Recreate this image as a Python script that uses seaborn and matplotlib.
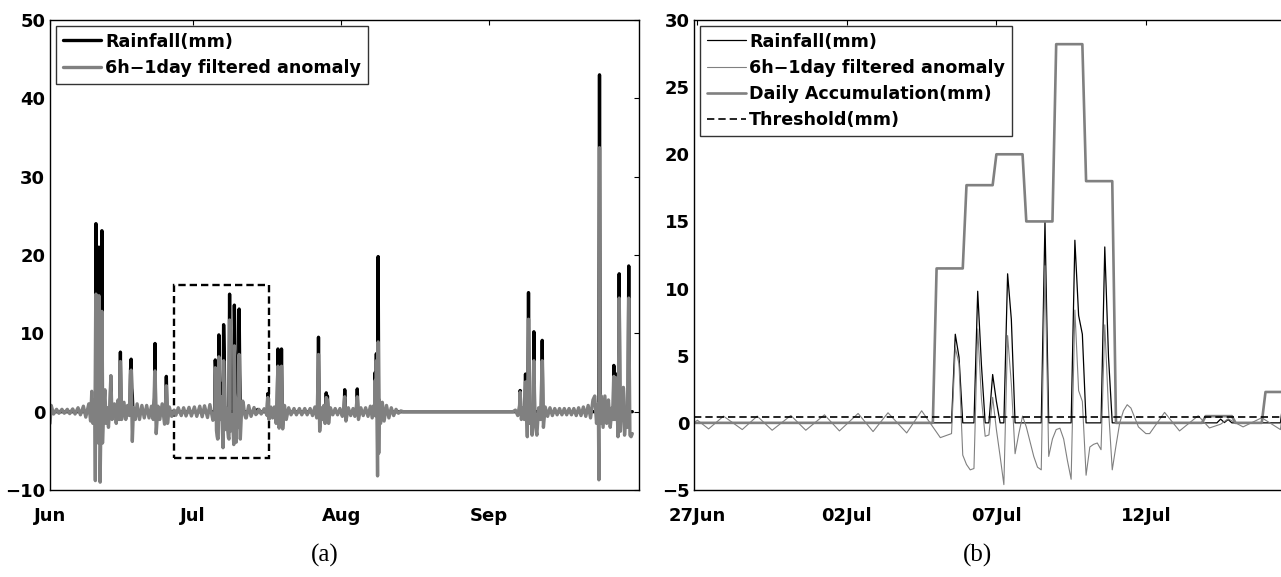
import numpy as np
import pandas as pd
import matplotlib
matplotlib.use("Agg")
import matplotlib.pyplot as plt
import matplotlib.dates as mdates
from matplotlib.patches import Rectangle
import seaborn as sns

# season starts 1 Jun; times below are days after 1 Jun 00:00 (3-hourly steps)
season_start = pd.Timestamp("2010-06-01")

# non-zero 3-hourly rainfall (mm)
rain_day = [9.625, 10.25, 10.875, 12.75, 14.75, 16.875, 17.0, 17.125, 17.25, 21.875, 22.0, 24.375,
            34.625, 34.75, 35.375, 35.5, 35.875, 36.0, 36.375, 36.5, 37.625, 38.625, 38.75, 38.875,
            39.625, 39.75, 43.5, 43.625, 43.75, 45.625,
            47.75, 48.5, 56.25, 57.875, 58.125, 61.75, 64.375, 68.125, 68.375, 68.75,
            98.5, 99.625, 100.25, 101.375, 103.125, 115.125, 118.125, 118.625, 119.25, 120.125, 121.25]
rain_mm = [24.0, 21.0, 23.1, 4.5, 7.6, 5.4, 6.7, 3.0, 2.0, 1.8, 8.7, 4.5,
           6.6, 4.9, 9.8, 4.3, 3.6, 1.6, 11.1, 7.7, 15.0, 13.6, 8.0, 6.6,
           13.1, 4.9, 0.28, 0.02, 0.25, 2.3,
           8.0, 8.0, 9.5, 2.4, 2.0, 2.8, 2.9, 5.0, 7.4, 19.8,
           2.7, 4.8, 15.2, 10.2, 9.1, 43.0, 5.9, 4.8, 17.6, 3.0, 18.6]

# 6h-1day filtered anomaly (mm), turning points
anom_day = [0.0, 0.25, 0.75, 1.375, 1.875, 2.5, 3.0, 3.625, 4.125, 4.75, 5.25, 5.875, 6.375, 7.0, 7.5,
            8.125, 8.5, 8.75, 9.0, 9.375, 9.5, 9.625, 9.75, 9.875, 10.0, 10.125, 10.25, 10.375, 10.5,
            10.625, 10.75, 10.875, 11.0, 11.25, 11.5, 11.75, 12.0, 12.25, 12.5, 12.75, 13.0, 13.5,
            13.875, 14.25, 14.5, 14.75, 15.0, 15.5, 15.875, 16.25, 16.625, 16.875, 17.0, 17.125, 17.25,
            17.5, 17.875, 18.25, 18.75, 19.25, 19.75, 20.25, 20.75, 21.25, 21.625, 21.875, 22.0, 22.25,
            22.625, 23.0, 23.5, 24.0, 24.375, 24.625, 25.0, 25.5,
            26.0, 26.375, 26.875, 27.5, 28.0, 28.5, 29.125, 29.625, 30.25, 30.75, 31.375, 31.875,
            32.375, 33.0, 33.5, 34.125, 34.375, 34.5, 34.625, 34.75, 34.875, 35.0, 35.125, 35.25,
            35.375, 35.5, 35.625, 35.75, 35.875, 36.0, 36.125, 36.25, 36.375, 36.5, 36.625, 36.75,
            36.875, 37.0, 37.125, 37.25, 37.375, 37.5, 37.625, 37.75, 37.875, 38.0, 38.125, 38.25,
            38.375, 38.5, 38.625, 38.75, 38.875, 39.0, 39.125, 39.25, 39.375, 39.5, 39.625, 39.75,
            39.875, 40.0, 40.125, 40.25, 40.375, 40.5, 40.75, 41.0, 41.125, 41.625, 42.125, 42.75,
            43.125, 43.5, 43.75, 44.25, 44.875, 45.5, 45.625, 45.875,
            46.25, 46.625, 47.0, 47.375, 47.75, 48.0, 48.25, 48.5, 48.75, 49.125, 49.5, 50.0, 50.5,
            51.125, 51.625, 52.25, 52.75, 53.375, 53.875, 54.5, 55.0, 55.5, 55.875, 56.0, 56.25,
            56.5, 56.875, 57.125, 57.375, 57.625, 57.875, 58.125, 58.375, 58.75, 59.25, 59.75, 60.25,
            60.75, 61.25, 61.5, 61.75, 62.0, 62.5, 63.0, 63.5, 63.875, 64.125, 64.375, 64.625, 65.125,
            65.625, 66.125, 66.625, 67.125, 67.5, 67.875, 68.0, 68.125, 68.25, 68.375, 68.5, 68.625,
            68.75, 68.875, 69.0, 69.25, 69.625, 70.0, 70.5, 71.0, 71.5, 72.0, 72.5, 73.0, 73.5, 74.0,
            97.0, 97.5, 98.0, 98.375, 98.5, 98.75, 99.125, 99.375, 99.625, 99.875, 100.0, 100.25,
            100.5, 100.75, 101.0, 101.375, 101.625, 102.0, 102.375, 102.75, 103.125, 103.375, 103.75,
            104.25, 104.75, 105.25, 105.75, 106.25, 106.75, 107.25, 107.75, 108.25, 108.75, 109.25,
            109.75, 110.25, 110.75, 111.25, 111.75, 112.25, 112.75, 113.25, 113.75, 114.125, 114.5,
            114.875, 115.0, 115.125, 115.25, 115.5, 115.875, 116.25, 116.625, 117.0, 117.375, 117.75,
            118.0, 118.125, 118.375, 118.625, 118.875, 119.0, 119.25, 119.5, 119.75, 120.125, 120.375,
            120.75, 121.0, 121.25, 121.5, 121.75, 122.0]
anom_mm = [-1.5, 0.8, -0.3, 0.3, -0.2, 0.3, -0.2, 0.3, -0.25, 0.35, -0.3, 0.5, -0.4, 0.7, -0.7,
           1.0, -1.2, 2.6, -1.5, 1.5, -8.8, 15.0, 3.0, -2.0, 0.5, -4.0, 14.8, 2.0, -9.0,
           -3.0, 2.0, 12.8, -4.0, 0.5, 2.8, -1.5, 0.5, -2.0, 0.5, 4.6, -1.0, 1.0,
           -1.5, 1.5, -1.0, 6.4, -1.0, 1.2, -1.0, 0.8, -0.5, 4.8, 5.3, 1.0, -3.8,
           0.5, -1.0, 1.0, -1.0, 0.8, -0.8, 0.8, -0.8, 0.7, -1.0, 1.5, 5.2, -2.8,
           0.7, -1.0, 1.0, -1.6, 3.3, -1.5, 0.6, -0.6,
           0.2, -0.45, 0.5, -0.5, 0.5, -0.55, 0.55, -0.55, 0.6, -0.6, 0.7, -0.65,
           0.75, -0.75, 0.9, -1.1, -0.9, -0.8, 5.6, 4.4, -2.4, -3.1, -3.5, -3.4,
           7.0, 1.8, -1.0, -0.9, 1.9, -0.5, -2.5, -4.6, 6.5, 2.9, -2.3, -0.8,
           0.5, -0.3, -1.4, -2.5, -3.3, -3.5, 11.7, -2.5, -1.2, -0.5, -0.4, -1.2,
           -2.8, -4.2, 8.4, 2.4, 1.6, -3.9, -1.8, -1.6, -1.5, -2.0, 7.3, 1.0,
           -3.5, -1.7, 0.0, 0.9, 1.35, 1.1, -0.3, -0.8, -0.8, 0.78, -0.6, 0.53,
           -0.38, -0.1, 0.3, -0.3, 0.38, -0.5, 1.8, -1.0,
           0.6, -0.8, 0.6, -1.5, 5.8, -2.1, -0.5, 5.8, -2.2, 0.8, -1.0, 0.5, -0.4,
           0.4, -0.4, 0.4, -0.4, 0.4, -0.4, 0.4, -0.5, 0.6, -0.8, 0.3, 7.3,
           -2.5, 0.5, -1.0, 0.8, -1.5, 1.8, 1.5, -1.5, 0.5, -0.4, 0.4, -0.4,
           0.4, -0.6, 0.3, 1.9, -1.2, 0.5, -0.5, 0.4, -0.6, 0.3, 1.9, -1.0, 0.5,
           -0.5, 0.5, -0.6, 0.7, -0.8, 0.8, -0.5, 4.0, -0.5, 6.5, -1.0, -8.2,
           8.9, -5.3, 1.5, -1.5, 1.2, -1.2, 0.8, -0.8, 0.5, -0.5, 0.3, -0.2, 0.1, 0.0,
           0.0, 0.2, -0.5, 0.8, 2.5, -1.0, 0.5, -1.0, 3.8, -0.5, -3.2, 11.8,
           -1.5, 0.5, -3.0, 6.5, -1.5, -3.0, 0.5, -1.0, 6.5, -2.0, 0.6,
           -0.6, 0.5, -0.5, 0.4, -0.4, 0.4, -0.4, 0.4, -0.4, 0.4, -0.4,
           0.4, -0.5, 0.5, -0.5, 0.6, -0.6, 0.8, -0.8, 1.5, 2.0, -1.5,
           1.0, -8.7, 33.7, -1.5, 2.0, -2.0, 2.0, -1.5, 1.5, -2.0, 0.5,
           -1.0, 4.5, -1.0, 4.3, -1.0, -3.2, 14.5, -2.5, 0.5, 3.1, -3.0,
           0.5, -2.0, 14.5, -3.0, -3.2, -2.8]

# daily accumulation (mm) for the zoomed window, one value per day from 26 Jun
daily_first = "2010-06-26"
daily_mm = [0, 0, 0, 0, 0, 0, 0, 0, 0, 11.5, 17.7, 20.0, 15.0, 28.2, 18.0, 0, 0, 0, 0.5, 0, 2.3]
threshold_mm = 0.45

# dashed box marking the zoomed window on panel (a)
box_days = (25.95, 45.87)
box_mm = (-5.9, 16.2)

# ---- build series ----
steps = pd.date_range(season_start, season_start + pd.Timedelta(days=122), freq="3h")
rain = pd.Series(0.0, index=steps)
rain.loc[season_start + pd.to_timedelta(rain_day, unit="D")] = rain_mm
rain_df = pd.DataFrame({"time": rain.index, "mm": rain.values})
anom_df = pd.DataFrame({"time": season_start + pd.to_timedelta(anom_day, unit="D"), "mm": anom_mm})

day_index = pd.date_range(daily_first, periods=len(daily_mm), freq="D")
win_steps = pd.date_range(day_index[0], day_index[-1] + pd.Timedelta(hours=21), freq="3h")
daily_df = pd.DataFrame({"time": win_steps,
                         "mm": pd.Series(daily_mm, index=day_index).reindex(win_steps.normalize()).values})

# ---- style ----
sns.set_style("white")
plt.rcParams["font.family"] = ["DejaVu Sans"]
plt.rcParams["font.weight"] = "bold"
plt.rcParams["text.color"] = "black"
FS = 13
LEG_FS = 12.6
grey = "#808080"

W, H = 1281, 577
fig = plt.figure(figsize=(W / 100, H / 100), dpi=100)


def px_axes(x0, x1, y0, y1):
    return fig.add_axes([x0 / W, 1 - y1 / H, (x1 - x0) / W, (y1 - y0) / H])


def matlab_look(ax):
    for s in ax.spines.values():
        s.set_color("black")
        s.set_linewidth(1.0)
    ax.tick_params(direction="in", length=3.6, width=0.8, top=True, right=True,
                   labelsize=FS, colors="black")
    ax.tick_params(axis="x", pad=12)
    ax.tick_params(axis="y", pad=3.5)
    for lab in ax.get_xticklabels() + ax.get_yticklabels():
        lab.set_fontweight("bold")


def boxed_legend(ax):
    leg = ax.legend(loc="upper left", frameon=True, fancybox=False, handlelength=2.2,
                    handletextpad=0.22, borderpad=0.4, labelspacing=0.47, borderaxespad=0.32,
                    prop={"weight": "bold", "size": LEG_FS})
    leg.get_frame().set_edgecolor("black")
    leg.get_frame().set_linewidth(1.0)
    for t in leg.get_texts():
        t.set_color("black")


# ---- panel (a) ----
ax1 = px_axes(50, 639, 20, 490)
sns.lineplot(data=rain_df, x="time", y="mm", ax=ax1, color="black", linewidth=2.4,
             label="Rainfall(mm)", estimator=None)
sns.lineplot(data=anom_df, x="time", y="mm", ax=ax1, color=grey, linewidth=2.4,
             label="6h\u22121day filtered anomaly", estimator=None)
b0 = mdates.date2num(season_start + pd.Timedelta(days=box_days[0]))
b1 = mdates.date2num(season_start + pd.Timedelta(days=box_days[1]))
ax1.add_patch(Rectangle((b0, box_mm[0]), b1 - b0, box_mm[1] - box_mm[0], fill=False,
                        edgecolor="black", linestyle=(0, (3.1, 1.7)), linewidth=1.7))
ax1.set_xlim(season_start, season_start + pd.Timedelta(days=123.4))
ax1.set_ylim(-10, 50)
ax1.set_yticks(range(-10, 51, 10))
ax1.xaxis.set_major_locator(mdates.MonthLocator(bymonth=[6, 7, 8, 9]))
ax1.xaxis.set_major_formatter(mdates.DateFormatter("%b"))
ax1.set_xlabel("")
ax1.set_ylabel("")
matlab_look(ax1)
boxed_legend(ax1)
fig.text(325 / W, 1 - 555 / H, "(a)", ha="center", va="center", color="black",
         fontsize=18, family="Liberation Serif", fontweight="normal")

# ---- panel (b) ----
px_per_day = 29.9
r0, r1 = 694.4, 1300
ax2 = px_axes(r0, r1, 20, 490)
sns.lineplot(data=rain_df, x="time", y="mm", ax=ax2, color="black", linewidth=0.9,
             label="Rainfall(mm)", estimator=None)
sns.lineplot(data=anom_df, x="time", y="mm", ax=ax2, color=grey, linewidth=0.8,
             label="6h\u22121day filtered anomaly", estimator=None)
sns.lineplot(data=daily_df, x="time", y="mm", ax=ax2, color=grey, linewidth=1.9,
             label="Daily Accumulation(mm)", estimator=None)
ax2.axhline(threshold_mm, color="black", linestyle=(0, (4.4, 2.4)), linewidth=1.2,
            label="Threshold(mm)")
win_start = season_start + pd.Timedelta(days=25.9)
ax2.set_xlim(win_start, win_start + pd.Timedelta(days=(r1 - r0) / px_per_day))
ax2.set_ylim(-5, 30)
ax2.set_yticks(range(-5, 31, 5))
ax2.xaxis.set_major_locator(mdates.DayLocator(bymonthday=[27, 2, 7, 12]))
ax2.xaxis.set_major_formatter(mdates.DateFormatter("%d%b"))
ax2.set_xlabel("")
ax2.set_ylabel("")
matlab_look(ax2)
boxed_legend(ax2)
fig.text(977 / W, 1 - 555 / H, "(b)", ha="center", va="center", color="black",
         fontsize=18, family="Liberation Serif", fontweight="normal")

fig.savefig("out.png", dpi=100)
